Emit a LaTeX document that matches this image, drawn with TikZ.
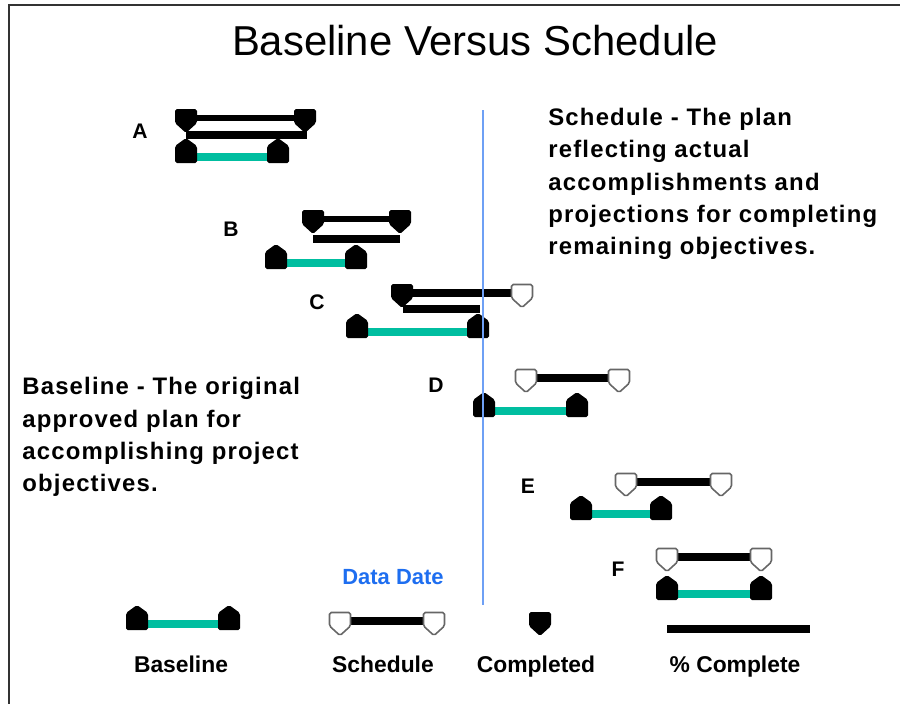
\documentclass[tikz,border=0pt]{standalone}
\usepackage{fontspec}
\setmainfont{Liberation Sans}
\newfontfamily\notefont[LetterSpace=5]{Liberation Sans}
\usepackage{tikz}
\usepackage{color}

\definecolor{basegreen}{RGB}{0,190,160}
\definecolor{dateblue}{RGB}{110,160,245}
\definecolor{datetext}{RGB}{30,110,240}

\tikzset{
 basemark/.pic={\fill[rounded corners=1pt] (-11,6)--(11,6)--(11,-11)--(0,-19)--(-11,-11)--cycle;},
 donemark/.pic={\fill[rounded corners=1pt] (-11,-9)--(11,-9)--(11,5)--(0,15)--(-11,5)--cycle;},
 openmark/.pic={\filldraw[fill=white,draw=black!60,line width=.9pt,rounded corners=1pt] (-10.5,-8.5)--(10.5,-8.5)--(10.5,5)--(0,14.5)--(-10.5,5)--cycle;},
 basebar/.style={basegreen, line width=5pt},
 schedbar/.style={black, line width=5pt},
 thinbar/.style={black, line width=3.4pt},
 donebar/.style={black, line width=4pt},
 rowlabel/.style={anchor=base, font=\bfseries\fontsize{12}{14}\selectfont},
 keylabel/.style={anchor=base, font=\bfseries\fontsize{13}{15}\selectfont},
 note/.style={anchor=north west, inner sep=0, align=left, font=\notefont\bfseries\fontsize{13.6}{18.4}\selectfont},
}

\begin{document}
\begin{tikzpicture}[x=0.02cm, y=-0.02cm]

\useasboundingbox (0,0) rectangle (900,704);

\draw[black!80, line width=.9pt] (900,5) -- (9,5) -- (9,704);

\node[anchor=base, font=\fontsize{23.8}{28}\selectfont] (title) at (475,55) {Baseline Versus Schedule};

\node[rowlabel] (labA) at (140,138) {A};
\coordinate (A-s1) at (186,118); \coordinate (A-s2) at (305,118);
\coordinate (A-p1) at (186,135); \coordinate (A-p2) at (307,135);
\coordinate (A-b1) at (186,157); \coordinate (A-b2) at (278,157);
\draw[thinbar] (A-s1) -- (A-s2);
\draw[donebar] (A-p1) -- (A-p2);
\draw[basebar] (A-b1) -- (A-b2);
\pic at (A-s1) {donemark}; \pic at (A-s2) {donemark};
\pic at (A-b1) {basemark}; \pic at (A-b2) {basemark};

\node[rowlabel] (labB) at (231,236) {B};
\coordinate (B-s1) at (313,219); \coordinate (B-s2) at (400,219);
\coordinate (B-p1) at (313,239); \coordinate (B-p2) at (400,239);
\coordinate (B-b1) at (276,263); \coordinate (B-b2) at (356,263);
\draw[thinbar] (B-s1) -- (B-s2);
\draw[donebar] (B-p1) -- (B-p2);
\draw[basebar] (B-b1) -- (B-b2);
\pic at (B-s1) {donemark}; \pic at (B-s2) {donemark};
\pic at (B-b1) {basemark}; \pic at (B-b2) {basemark};

\node[rowlabel] (labC) at (317,309) {C};
\coordinate (C-s1) at (402,293); \coordinate (C-s2) at (522,293);
\coordinate (C-p1) at (403,309); \coordinate (C-p2) at (480,309);
\coordinate (C-b1) at (357,332); \coordinate (C-b2) at (478,332);
\draw[schedbar] (C-s1) -- (C-s2);
\draw[donebar] (C-p1) -- (C-p2);
\draw[basebar] (C-b1) -- (C-b2);
\pic at (C-s1) {donemark}; \pic at (C-s2) {openmark};
\pic at (C-b1) {basemark}; \pic at (C-b2) {basemark};

\node[rowlabel] (labD) at (436,392) {D};
\coordinate (D-s1) at (526,378); \coordinate (D-s2) at (619,378);
\coordinate (D-b1) at (484,411); \coordinate (D-b2) at (577,411);
\draw[schedbar] (D-s1) -- (D-s2);
\draw[basebar] (D-b1) -- (D-b2);
\pic at (D-s1) {openmark}; \pic at (D-s2) {openmark};
\pic at (D-b1) {basemark}; \pic at (D-b2) {basemark};

\node[rowlabel] (labE) at (528,493) {E};
\coordinate (E-s1) at (626,482); \coordinate (E-s2) at (721,482);
\coordinate (E-b1) at (581,514); \coordinate (E-b2) at (661,514);
\draw[schedbar] (E-s1) -- (E-s2);
\draw[basebar] (E-b1) -- (E-b2);
\pic at (E-s1) {openmark}; \pic at (E-s2) {openmark};
\pic at (E-b1) {basemark}; \pic at (E-b2) {basemark};

\node[rowlabel] (labF) at (618,576) {F};
\coordinate (F-s1) at (667,557); \coordinate (F-s2) at (761,557);
\coordinate (F-b1) at (667,594); \coordinate (F-b2) at (761,594);
\draw[schedbar] (F-s1) -- (F-s2);
\draw[basebar] (F-b1) -- (F-b2);
\pic at (F-s1) {openmark}; \pic at (F-s2) {openmark};
\pic at (F-b1) {basemark}; \pic at (F-b2) {basemark};

\node[note] (schednote) at (548,108) {Schedule - The plan\\reflecting actual\\accomplishments and\\projections for completing\\remaining objectives.};

\node[note] (basenote) at (22,377) {Baseline - The original\\approved plan for\\accomplishing project\\objectives.};

\coordinate (key-b1) at (137,624); \coordinate (key-b2) at (229,624);
\coordinate (key-s1) at (340,621); \coordinate (key-s2) at (434,621);
\coordinate (key-d) at (540,621);
\coordinate (key-p1) at (667,629); \coordinate (key-p2) at (810,629);
\draw[basebar] (key-b1) -- (key-b2);
\draw[schedbar] (key-s1) -- (key-s2);
\draw[black, line width=4.5pt] (key-p1) -- (key-p2);
\pic at (key-b1) {basemark}; \pic at (key-b2) {basemark};
\pic at (key-s1) {openmark}; \pic at (key-s2) {openmark};
\pic at (key-d) {donemark};

\node[keylabel] (keybase) at (181,672) {Baseline};
\node[keylabel] (keysched) at (383,672) {Schedule};
\node[keylabel] (keydone) at (536,672) {Completed};
\node[keylabel] (keypct) at (735,672) {\% Complete};

\coordinate (date-top) at (483,110);
\coordinate (date-bot) at (483,605);
\draw[dateblue, line width=1.6pt] (date-top) -- (date-bot);
\node[keylabel, text=datetext, font=\bfseries\fontsize{12.5}{15}\selectfont] (datelabel) at (393,584) {Data Date};

\end{tikzpicture}
\end{document}
